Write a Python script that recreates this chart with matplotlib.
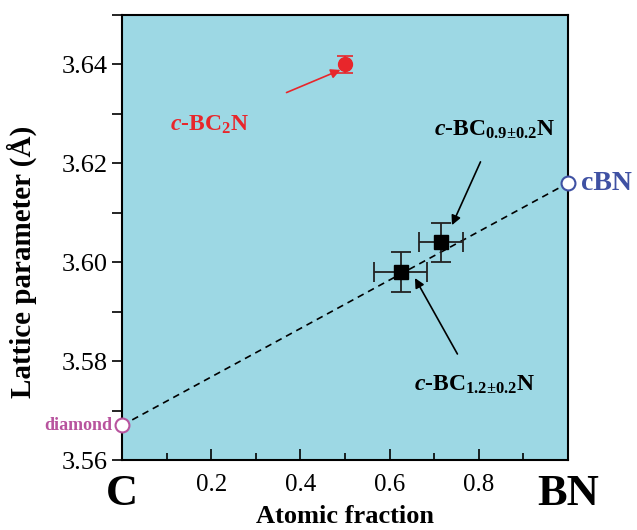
import matplotlib.pyplot as plt
import numpy as np

plt.rcParams['font.family'] = ['Liberation Serif', 'DejaVu Serif']
plt.rcParams['mathtext.fontset'] = 'custom'
plt.rcParams['mathtext.rm'] = 'Liberation Serif:bold'
plt.rcParams['mathtext.it'] = 'Liberation Serif:bold:italic'
plt.rcParams['mathtext.bf'] = 'Liberation Serif:bold'

# 端点：金刚石 与 cBN
end_x = [0.0, 1.0]
end_y = [3.567, 3.616]

# c-BC2N
bc2n_x = [0.5]
bc2n_y = [3.640]
bc2n_yerr = [0.0018]

# c-BCxN 两个样品
sq_x = [0.715, 0.625]
sq_y = [3.604, 3.598]
sq_xerr = [0.05, 0.06]
sq_yerr = [0.004, 0.004]

xticks = [0, 0.2, 0.4, 0.6, 0.8, 1.0]
xticklabels = ['C', '0.2', '0.4', '0.6', '0.8', 'BN']
yticks = [3.56, 3.58, 3.60, 3.62, 3.64]

bg = '#9dd8e4'
pink = '#b8549e'
blue = '#3f51a3'
red = '#e8262b'

fig = plt.figure(figsize=(6.37, 5.30), dpi=100)
ax = fig.add_axes([0.1915, 0.132, 0.70, 0.8397])
ax.set_facecolor(bg)

# 虚线
ax.plot(end_x, end_y, '--', color='black', lw=1.2, dashes=(4, 3), zorder=2)

ax.plot(end_x[0], end_y[0], 'o', ms=10, mfc='white', mec=pink, mew=1.5, zorder=5, clip_on=False)
ax.plot(end_x[1], end_y[1], 'o', ms=10, mfc='white', mec=blue, mew=1.5, zorder=5, clip_on=False)

ax.errorbar(bc2n_x, bc2n_y, yerr=bc2n_yerr, fmt='o', ms=10, color=red, ecolor=red,
            elinewidth=1.2, capsize=6, capthick=1.2, zorder=4)
ax.errorbar(sq_x, sq_y, xerr=sq_xerr, yerr=sq_yerr, fmt='s', ms=10, color='black',
            ecolor='#222222', elinewidth=1.3, capsize=7, capthick=1.3, zorder=4)

# 标注
ax.annotate(r'$c$-BC$_2$N', xy=(0.49, 3.6389), xytext=(0.197, 3.6278),
            color=red, fontsize=17, fontweight='bold', ha='center', va='center',
            arrowprops=dict(arrowstyle='-|>', color=red, lw=1.2, shrinkA=34, shrinkB=0,
                            mutation_scale=14))
ax.annotate(r'$c$-BC$_{0.9{\pm}0.2}$N', xy=(0.74, 3.6075), xytext=(0.836, 3.6267),
            color='black', fontsize=17, fontweight='bold', ha='center', va='center',
            arrowprops=dict(arrowstyle='-|>', color='black', lw=1.2, shrinkA=14, shrinkB=0,
                            mutation_scale=14))
ax.annotate(r'$c$-BC$_{1.2{\pm}0.2}$N', xy=(0.657, 3.5968), xytext=(0.791, 3.5752),
            color='black', fontsize=17, fontweight='bold', ha='center', va='center',
            arrowprops=dict(arrowstyle='-|>', color='black', lw=1.2, shrinkA=14, shrinkB=0,
                            mutation_scale=14))

ax.text(1.03, end_y[1], 'cBN', color=blue, fontsize=20, fontweight='bold',
        ha='left', va='center', clip_on=False)
ax.text(-0.022, end_y[0], 'diamond', color=pink, fontsize=13, fontweight='bold',
        ha='right', va='center', clip_on=False)

ax.set_xlim(0, 1)
ax.set_ylim(3.56, 3.65)
ax.set_xticks(xticks)
ax.set_xticklabels(xticklabels)
ax.set_xticks(np.arange(0.1, 1.0, 0.2), minor=True)
ax.set_yticks(yticks)
ax.set_yticklabels(['%.2f' % v for v in yticks])
ax.set_yticks(np.arange(3.57, 3.65, 0.02), minor=True)

ax.tick_params(axis='x', which='major', direction='in', length=8, width=1.2, labelsize=18, pad=10)
ax.tick_params(axis='x', which='minor', direction='in', length=5, width=1.2)
ax.tick_params(axis='y', which='both', direction='out', length=7, width=1.2, labelsize=19)
for lab in ax.get_xticklabels():
    if lab.get_text() in ('C', 'BN'):
        lab.set_fontsize(32)
        lab.set_fontweight('bold')
for sp in ax.spines.values():
    sp.set_linewidth(1.5)

ax.set_xlabel('Atomic fraction', fontsize=19, fontweight='bold')
ax.xaxis.set_label_coords(0.5, -0.102)
ax.set_ylabel('Lattice parameter (Å)', fontsize=21, fontweight='bold')
ax.yaxis.set_label_coords(-0.19, 0.445)

plt.savefig('out.png', dpi=100)
